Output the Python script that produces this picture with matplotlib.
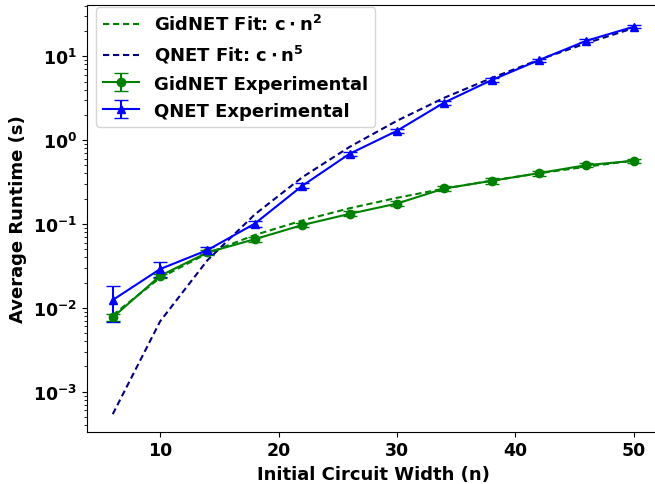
import numpy as np
import matplotlib
matplotlib.use('Agg')
import matplotlib.pyplot as plt

plt.rcParams['font.weight'] = 'bold'
plt.rcParams['axes.labelweight'] = 'bold'

# ── Données ─────────────────────────────────────────────────────────────
n = [6, 10, 14, 18, 22, 26, 30, 34, 38, 42, 46, 50]

gidnet_exp = [0.0077, 0.0241, 0.0457, 0.0659, 0.097, 0.132, 0.175, 0.265, 0.327, 0.404, 0.503, 0.567]
gidnet_err = [0.0007, 0.0015, 0.003, 0.005, 0.006, 0.009, 0.012, 0.02, 0.025, 0.03, 0.03, 0.035]

qnet_exp = [0.0124, 0.0290, 0.0488, 0.101, 0.285, 0.687, 1.29, 2.81, 5.20, 9.0, 15.3, 22.5]
qnet_err = [0.0057, 0.006, 0.005, 0.008, 0.02, 0.04, 0.08, 0.15, 0.25, 0.4, 0.6, 0.8]

gidnet_fit = [0.0082, 0.0228, 0.0447, 0.0739, 0.110, 0.154, 0.205, 0.264, 0.329, 0.402, 0.482, 0.570]
qnet_fit = [0.00054, 0.0069, 0.037, 0.13, 0.36, 0.83, 1.7, 3.2, 5.5, 9.1, 14.3, 21.7]

# ── Figure ──────────────────────────────────────────────────────────────
fig = plt.figure(figsize=(6.55, 4.85), dpi=100)
ax = fig.add_axes([0.1324, 0.1078, 0.8748, 0.8804])

dash = (0, (3.0, 1.8))
l1, = ax.plot(n, gidnet_fit, linestyle=dash, color='green', linewidth=1.5,
              label=r'GidNET Fit: $\mathbf{c \cdot n^2}$')
l2, = ax.plot(n, qnet_fit, linestyle=dash, color='navy', linewidth=1.5,
              label=r'QNET Fit: $\mathbf{c \cdot n^5}$')
e1 = ax.errorbar(n, gidnet_exp, yerr=gidnet_err, fmt='-o', color='green', markersize=6,
                 linewidth=1.5, capsize=5, label='GidNET Experimental')
e2 = ax.errorbar(n, qnet_exp, yerr=qnet_err, fmt='-^', color='blue', markersize=6,
                 linewidth=1.5, capsize=5, label='QNET Experimental')

ax.set_yscale('log')
ax.set_xlim(3.8, 52.2)
ax.set_ylim(3.33e-4, 41.2)
ax.set_xticks([10, 20, 30, 40, 50])
ax.tick_params(axis='both', labelsize=12.5)
ax.set_xlabel('Initial Circuit Width (n)', fontsize=13, fontweight='bold')
ax.set_ylabel('Average Runtime (s)', fontsize=13, fontweight='bold')

ax.legend(handles=[l1, l2, e1, e2], loc='upper left', fontsize=13,
          bbox_to_anchor=(0.0162, 0.9946), borderaxespad=0)

fig.savefig('out.png', dpi=100)
plt.close()
